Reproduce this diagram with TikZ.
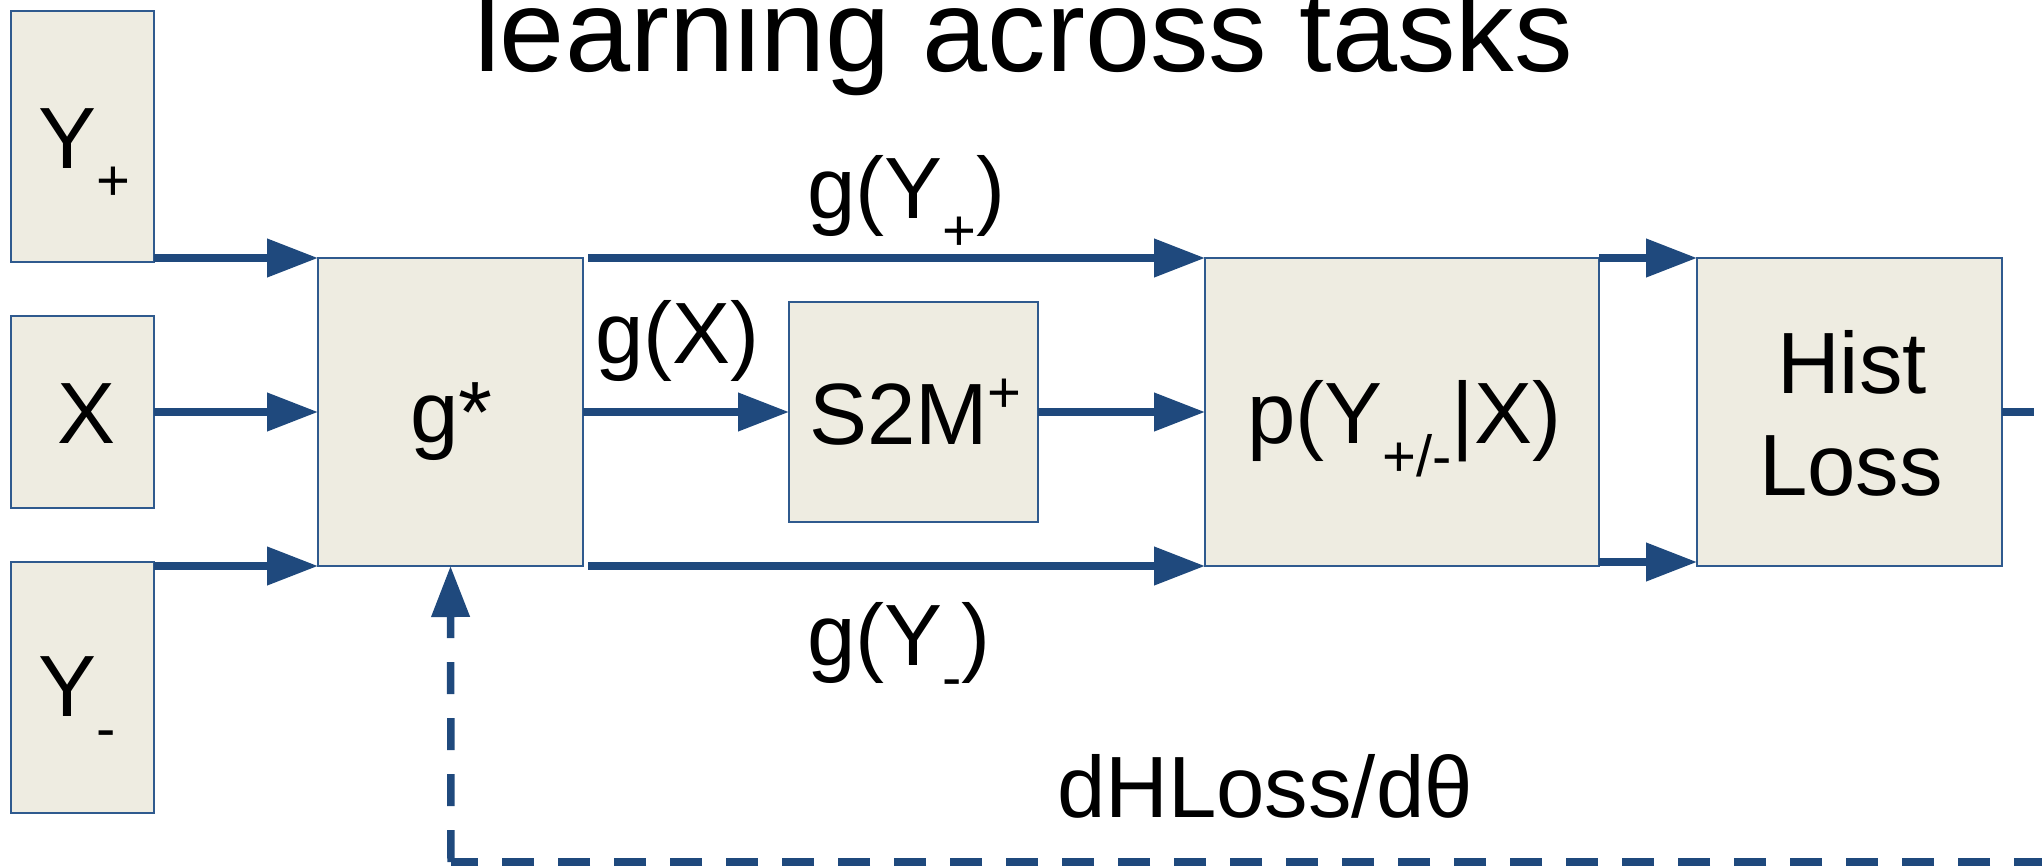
\documentclass[tikz,border=0pt]{standalone}
\usepackage{fontspec}
\setmainfont{Liberation Sans}
\usetikzlibrary{arrows.meta}
\definecolor{boxfill}{HTML}{EEECE1}
\definecolor{boxline}{HTML}{2F5A8E}
\definecolor{arrowcol}{HTML}{1F497D}
\newcommand\lblsize{\fontsize{87pt}{104pt}\selectfont}
\newcommand\mysub{\fontsize{58pt}{58pt}\selectfont}
\newcommand\titlesize{\fontsize{117pt}{140pt}\selectfont}
\begin{document}
\begin{tikzpicture}[x=1pt,y=-1pt,
  box/.style={draw=boxline, line width=2pt, fill=boxfill, inner sep=0pt, outer sep=0pt, anchor=north west},
  lbl/.style={inner sep=0pt, outer sep=0pt, font=\lblsize, anchor=base west, text=black},
  arr/.style={draw=arrowcol, line width=7.5pt, -{Triangle[length=51pt,width=37pt]}},
  plainln/.style={draw=arrowcol, line width=7.5pt},
  dashln/.style={draw=arrowcol, line width=7.5pt, dash pattern=on 32pt off 24pt}]
\useasboundingbox (0,0) rectangle (2042,865);
\clip (0,0) rectangle (2042,865);
% boxes
\node[box, minimum width=143pt, minimum height=251pt] (yp) at (11,11) {};
\node[box, minimum width=143pt, minimum height=192pt] (xb) at (11,316) {};
\node[box, minimum width=143pt, minimum height=251pt] (ym) at (11,562) {};
\node[box, minimum width=265pt, minimum height=308pt] (gs) at (318,258) {};
\node[box, minimum width=249pt, minimum height=220pt] (s2m) at (789,302) {};
\node[box, minimum width=394pt, minimum height=308pt] (p) at (1205,258) {};
\node[box, minimum width=305pt, minimum height=308pt] (hist) at (1697,258) {};
% labels
\node[lbl, font=\titlesize] (title) at (474,71) {learning across tasks};
\node[lbl] (typ) at (38,168) {Y\raisebox{-32pt}{\mysub +}};
\node[lbl] (tx) at (57,443) {X};
\node[lbl] (tym) at (38,716) {Y\raisebox{-32pt}{\mysub -}};
\node[lbl] (tgs) at (410,442) {g*};
\node[lbl] (tgx) at (595,363) {g(X)};
\node[lbl] (tgyp) at (807,218) {g(Y\raisebox{-32pt}{\mysub +})};
\node[lbl] (ts2m) at (809,444) {S2M\raisebox{32pt}{\mysub +}};
\node[lbl] (tp) at (1247,443) {p(Y\raisebox{-33pt}{\mysub +/-}|X)};
\node[lbl, anchor=base] (thist) at (1852,393) {Hist};
\node[lbl, anchor=base] (tloss) at (1851,495) {Loss};
\node[lbl] (tgym) at (807,665) {g(Y\raisebox{-32pt}{\mysub -})};
\node[lbl] (tdl) at (1057,817) {dHLoss/dθ};
% connectors
\draw[arr] ([yshift=4pt]yp.south east) -- (gs.north west);
\draw[arr] (xb.east) -- (gs.west);
\draw[arr] ([yshift=-4pt]ym.north east) -- (gs.south west);
\draw[arr] ([xshift=5pt]gs.north east) -- (p.north west);
\draw[arr] (gs.east) -- (s2m.west);
\draw[arr] (s2m.east) -- (p.west);
\draw[arr] ([xshift=5pt]gs.south east) -- (p.south west);
\draw[arr] (p.north east) -- (hist.north west);
\draw[arr] ([yshift=4pt]p.south east) -- ([yshift=4pt]hist.south west);
\coordinate (hstub) at (2034,412);
\coordinate (dtop) at (2046,412);
\coordinate (dbr) at (2046,862);
\coordinate (dbl) at (451,862);
\draw[plainln] (hist.east) -- (hstub);
\draw[dashln] (dtop) -- (dbr);
\draw[dashln] (dbr) -- (dbl);
\draw[dashln, -{Triangle[length=51pt,width=37pt]}] (dbl) -- (gs.south);
\end{tikzpicture}
\end{document}
